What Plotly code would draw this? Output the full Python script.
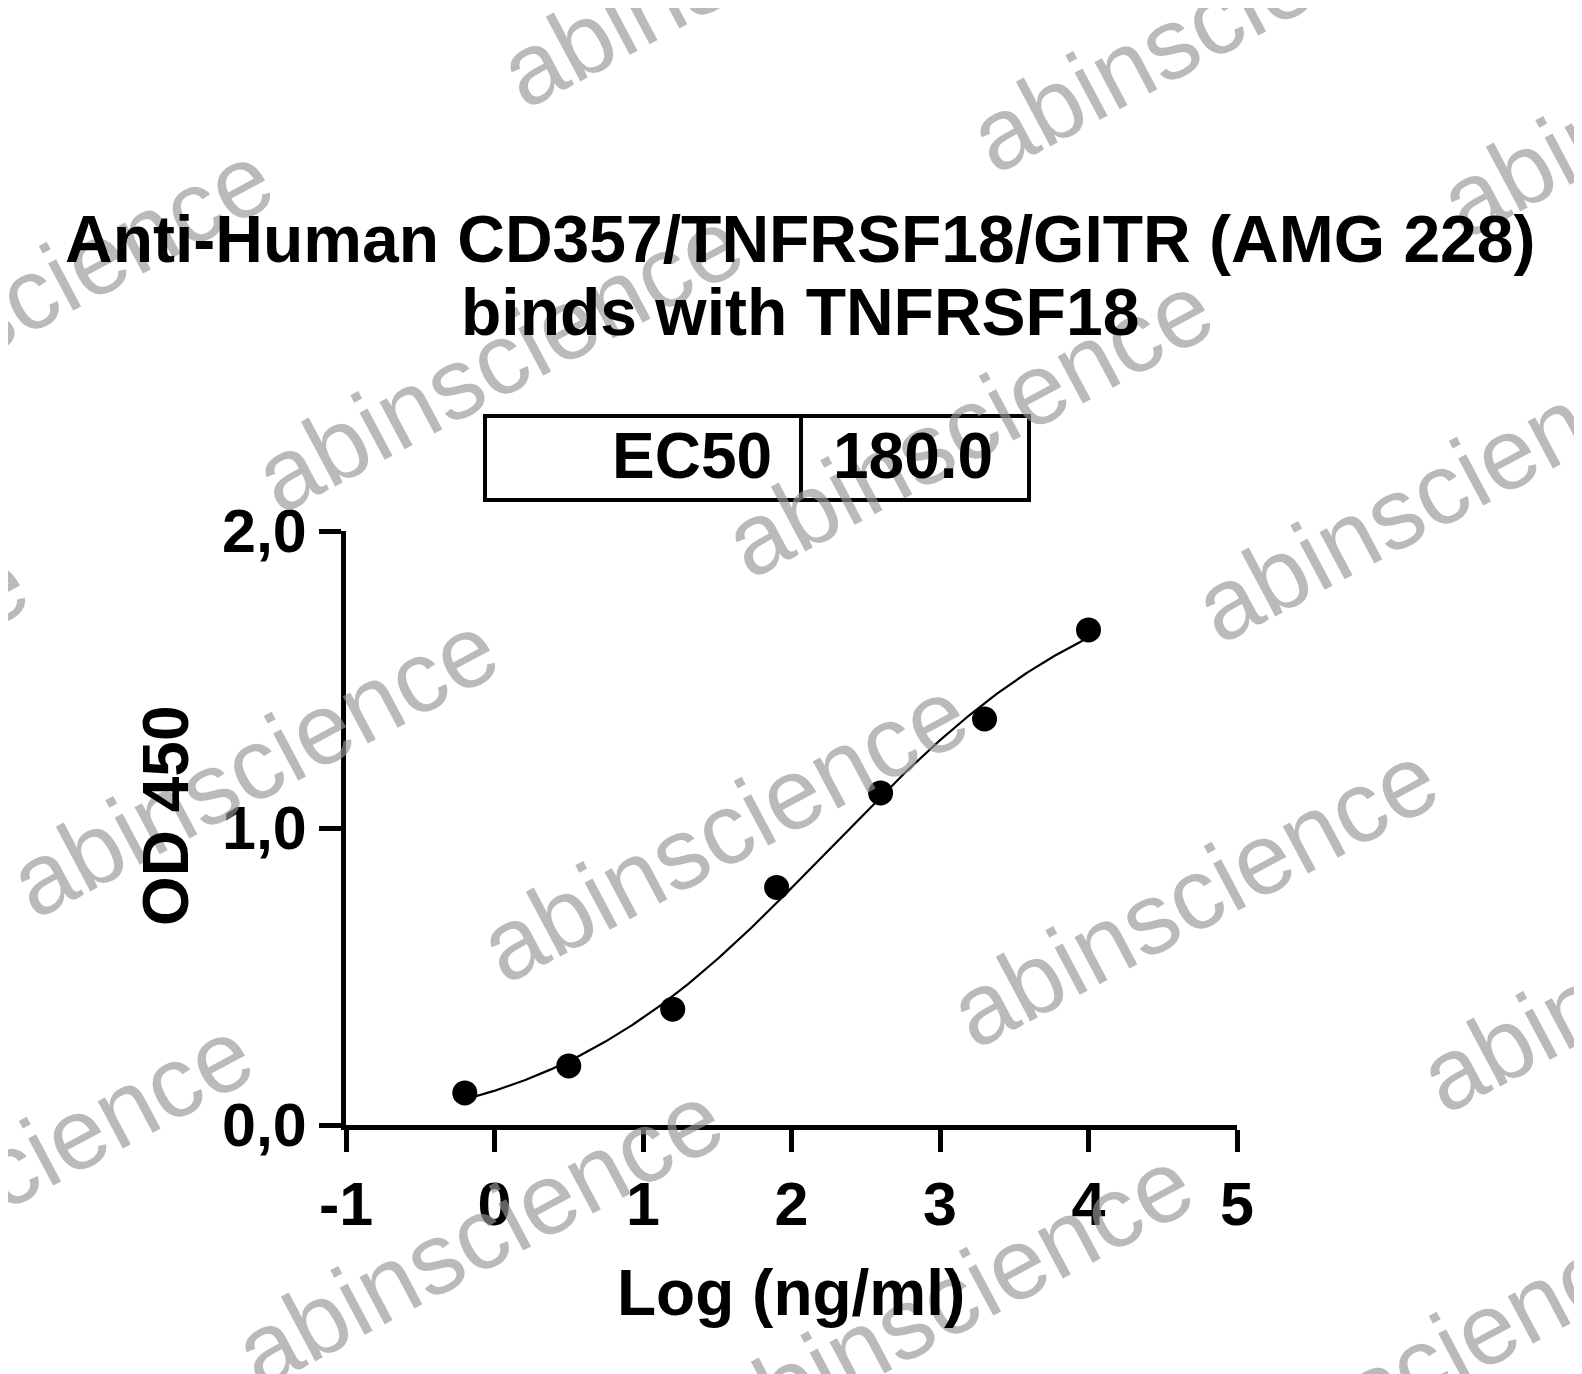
import numpy as np
import plotly.graph_objects as go

# ---- data ----
log_conc = [-0.2, 0.5, 1.2, 1.9, 2.6, 3.3, 4.0]
od450 = [0.108, 0.199, 0.39, 0.80, 1.118, 1.367, 1.667]
ec50_label = "EC50"
ec50_value = 180.0
x_ticks = [-1, 0, 1, 2, 3, 4, 5]
y_ticks = [0, 1, 2]
title_lines = ["Anti-Human CD357/TNFRSF18/GITR (AMG 228)", "binds with TNFRSF18"]

# ---- 4PL fit (logEC50 fixed to reported EC50) ----
xd = np.array(log_conc)
yd = np.array(od450)
L = np.log10(ec50_value)
best = None
for h in np.linspace(0.2, 2.0, 1801):
    f = 1.0 / (1.0 + 10 ** ((L - xd) * h))
    A = np.column_stack([1 - f, f])
    coef, *_ = np.linalg.lstsq(A, yd, rcond=None)
    r = np.sum((A @ coef - yd) ** 2)
    if best is None or r < best[0]:
        best = (r, h, coef)
_, hill, (bottom, top) = best
xc = np.linspace(min(log_conc), max(log_conc), 300)
yc = bottom + (top - bottom) / (1.0 + 10 ** ((L - xc) * hill))

# ---- layout geometry (pixels) ----
W, H = 1582, 1374
ML, MR, MT, MB = 338, 353, 523, 257
PW, PH = W - ML - MR, H - MT - MB


def px2paper(px, py):
    return (px - ML) / PW, (H - MB - py) / PH


FONT = "Liberation Sans, Arial, Helvetica, sans-serif"

fig = go.Figure()
fig.add_trace(go.Scatter(x=xc, y=yc, mode="lines",
                         line=dict(color="black", width=2.2),
                         hoverinfo="skip", showlegend=False))
fig.add_trace(go.Scatter(x=log_conc, y=od450, mode="markers",
                         marker=dict(color="black", size=25),
                         showlegend=False))

annotations = []
shapes = []

# watermarks
base = np.array([715.0, 822.0])
va = np.array([470.0, 65.0])
vb = np.array([245.0, -405.0])
for i in range(-3, 4):
    for j in range(-2, 4):
        c = base + i * va + j * vb
        if -350 < c[0] < W + 350 and -100 < c[1] < H + 250:
            px_, py_ = px2paper(c[0], c[1])
            annotations.append(dict(
                x=px_, y=py_, xref="paper", yref="paper",
                text="abinscience", showarrow=False, textangle=-28,
                xanchor="center", yanchor="middle",
                font=dict(family=FONT, size=101, color="rgba(150,150,150,0.66)")))

# title (two lines)
for line, py in zip(title_lines, [231, 304]):
    tx, ty = px2paper(792, py)
    annotations.append(dict(x=tx, y=ty, xref="paper", yref="paper",
                            text="<b>" + line + "</b>",
                            showarrow=False, xanchor="center", yanchor="middle",
                            font=dict(family=FONT, size=66, color="black")))

# EC50 box
bx0, by0 = px2paper(477, 492)
bx1, by1 = px2paper(1021, 408)
bdx, _ = px2paper(793, 450)
shapes.append(dict(type="rect", xref="paper", yref="paper",
                   x0=bx0, x1=bx1, y0=by0, y1=by1,
                   line=dict(color="black", width=4)))
shapes.append(dict(type="line", xref="paper", yref="paper",
                   x0=bdx, x1=bdx, y0=by0, y1=by1,
                   line=dict(color="black", width=4)))
ex, ey = px2paper(766, 448)
annotations.append(dict(x=ex, y=ey, xref="paper", yref="paper", text="<b>" + ec50_label + "</b>",
                        showarrow=False, xanchor="right", yanchor="middle",
                        font=dict(family=FONT, size=64, color="black")))
vx, vy = px2paper(823, 448)
annotations.append(dict(x=vx, y=vy, xref="paper", yref="paper", text="<b>%.1f</b>" % ec50_value,
                        showarrow=False, xanchor="left", yanchor="middle",
                        font=dict(family=FONT, size=64, color="black")))

# axis titles
ax, ay = px2paper(783, 1285)
annotations.append(dict(x=ax, y=ay, xref="paper", yref="paper", text="<b>Log (ng/ml)</b>",
                        showarrow=False, xanchor="center", yanchor="middle",
                        font=dict(family=FONT, size=64, color="black")))
yx, yy = px2paper(158, 808)
annotations.append(dict(x=yx, y=yy, xref="paper", yref="paper", text="<b>OD 450</b>",
                        showarrow=False, xanchor="center", yanchor="middle", textangle=-90,
                        font=dict(family=FONT, size=64, color="black")))

fig.update_layout(
    width=W, height=H,
    margin=dict(l=ML, r=MR, t=MT, b=MB, pad=0),
    plot_bgcolor="white", paper_bgcolor="white",
    separators=",.",
    showlegend=False,
    annotations=annotations, shapes=shapes,
    font=dict(family=FONT, color="black"),
    xaxis=dict(range=[-1, 5], tickvals=x_ticks, ticktext=["<b>%d</b>" % v for v in x_ticks],
               showline=True, linewidth=5, linecolor="black", ticks="outside",
               ticklen=22, tickwidth=5, tickcolor="black", showgrid=False, zeroline=False,
               tickfont=dict(family=FONT, size=61, color="black")),
    yaxis=dict(range=[0, 2], tickvals=y_ticks, ticktext=["<b>%d,0</b>" % v for v in y_ticks],
               showline=True, linewidth=5, linecolor="black", ticks="outside",
               ticklen=22, tickwidth=5, tickcolor="black", showgrid=False, zeroline=False,
               tickfont=dict(family=FONT, size=61, color="black")),
)

fig.write_html("out.html", config={"displayModeBar": False})
